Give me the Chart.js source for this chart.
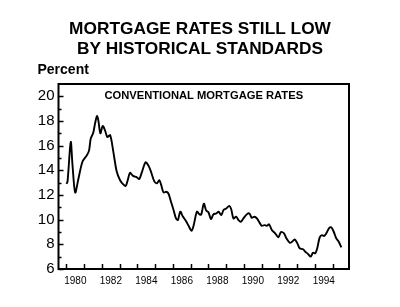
<!DOCTYPE html>
<html>
<head>
<meta charset="utf-8">
<script src="https://cdn.jsdelivr.net/npm/chart.js@4.4.1/dist/chart.umd.min.js"></script>
<style>
  html, body { margin: 0; padding: 0; background: #fff; }
  #wrap { width: 400px; height: 307px; position: relative; }
</style>
</head>
<body>
<div id="wrap"><canvas id="grafica" width="400" height="307"></canvas></div>
<script>
// fechas en años decimales y tasa hipotecaria convencional (%)
const fechas = [
  1980.00, 1980.06, 1980.24, 1980.34, 1980.49, 1980.67, 1980.90, 1981.14, 1981.27, 1981.37,
  1981.50, 1981.61, 1981.72, 1981.80, 1981.91, 1982.04, 1982.17, 1982.30, 1982.46, 1982.64,
  1982.83, 1983.02, 1983.20, 1983.34, 1983.45, 1983.58, 1983.75, 1983.95, 1984.10, 1984.26,
  1984.46, 1984.63, 1984.76, 1984.95, 1985.10, 1985.23, 1985.34, 1985.47, 1985.62, 1985.75,
  1985.89, 1986.03, 1986.17, 1986.28, 1986.41, 1986.56, 1986.73, 1986.88, 1987.05, 1987.16,
  1987.35, 1987.48, 1987.59, 1987.74, 1987.87, 1988.00, 1988.14, 1988.28, 1988.44, 1988.57,
  1988.72, 1988.85, 1989.00, 1989.17, 1989.28, 1989.41, 1989.56, 1989.69, 1989.82, 1989.97,
  1990.16, 1990.31, 1990.44, 1990.59, 1990.73, 1990.87, 1991.00, 1991.15, 1991.29, 1991.42,
  1991.57, 1991.76, 1991.94, 1992.09, 1992.26, 1992.39, 1992.58, 1992.71, 1992.86, 1993.01,
  1993.14, 1993.33, 1993.46, 1993.61, 1993.76, 1993.89, 1994.02, 1994.13, 1994.27, 1994.40,
  1994.51, 1994.64, 1994.79, 1994.92, 1995.06, 1995.20, 1995.34, 1995.49
];
const tasas = [
  12.9, 13.1, 16.3, 14.4, 12.2, 13.3, 14.7, 15.2, 15.6, 16.6,
  17.0, 17.8, 18.4, 18.0, 17.0, 17.6, 17.25, 16.7, 16.85, 15.5,
  13.9, 13.2, 12.86, 12.74, 13.2, 13.8, 13.55, 13.45, 13.3, 13.9,
  14.65, 14.35, 13.9, 13.1, 12.95, 13.2, 12.8, 12.2, 12.26, 12.1,
  11.45, 10.8, 10.1, 9.97, 10.65, 10.25, 9.9, 9.5, 9.1, 9.5,
  10.65, 10.45, 10.4, 11.3, 10.75, 10.6, 10.05, 10.43, 10.5, 10.64,
  10.37, 10.78, 10.9, 11.12, 10.86, 10.1, 10.24, 9.97, 9.83, 10.1,
  10.43, 10.5, 10.15, 10.24, 10.1, 9.78, 9.5, 9.56, 9.5, 9.62,
  9.16, 8.89, 8.57, 9.0, 8.89, 8.49, 8.13, 8.21, 8.4, 8.08,
  7.68, 7.6, 7.4, 7.22, 7.0, 7.32, 7.27, 7.68, 8.57, 8.75,
  8.67, 8.89, 9.3, 9.38, 9.02, 8.49, 8.21, 7.76
];
const anios = [1980, 1981, 1982, 1983, 1984, 1985, 1986, 1987, 1988, 1989, 1990, 1991, 1992, 1993, 1994, 1995];
const etiquetasAnio = [1980, 1982, 1984, 1986, 1988, 1990, 1992, 1994];
const valoresY = [6, 7, 8, 9, 10, 11, 12, 13, 14, 15, 16, 17, 18, 19, 20];

const fuente = "'Liberation Sans', Arial, sans-serif";

const marcoYMarcas = {
  id: "marcoYMarcas",
  afterDatasetsDraw(chart) {
    const { ctx, chartArea: a, scales } = chart;
    ctx.save();
    ctx.strokeStyle = "#000";
    ctx.lineWidth = 1.5;
    ctx.beginPath();
    valoresY.forEach((v) => {
      const y = Math.round(scales.y.getPixelForValue(v)) + 0.5;
      const largo = v % 2 === 0 ? 5 : 3;
      ctx.moveTo(a.left, y);
      ctx.lineTo(a.left + largo, y);
    });
    anios.forEach((an) => {
      const x = Math.round(scales.x.getPixelForValue(an)) + 0.5;
      ctx.moveTo(x, a.bottom);
      ctx.lineTo(x, a.bottom - 5);
    });
    ctx.stroke();
    ctx.lineWidth = 2;
    ctx.strokeRect(a.left, a.top, a.right - a.left, a.bottom - a.top);
    ctx.fillStyle = "#000";
    ctx.font = "bold 11.2px " + fuente;
    ctx.textAlign = "center";
    ctx.textBaseline = "middle";
    ctx.fillText("CONVENTIONAL MORTGAGE RATES", (a.left + a.right) / 2, a.top + 12);
    ctx.font = "bold 14px " + fuente;
    ctx.textAlign = "left";
    ctx.fillText("Percent", a.left - 21, a.top - 13.5);
    ctx.restore();
  },
};

const datos = {
  datasets: [
    {
      label: "Conventional mortgage rates",
      data: fechas.map((f, i) => ({ x: f, y: tasas[i] })),
      borderColor: "#000",
      borderWidth: 1.9,
      pointRadius: 0,
      tension: 0.3,
      fill: false,
    },
  ],
};

const config = {
  type: "line",
  data: datos,
  options: {
    responsive: false,
    animation: false,
    layout: { padding: 0 },
    plugins: {
      legend: { display: false },
      tooltip: { enabled: false },
      title: {
        display: true,
        text: ["MORTGAGE RATES STILL LOW", "BY HISTORICAL STANDARDS"],
        color: "#000",
        font: { family: fuente, size: 17.3, weight: "bold", lineHeight: 1.156 },
        padding: { top: 19, bottom: 25 },
      },
    },
    scales: {
      x: {
        type: "linear",
        min: 1979.55,
        max: 1995.92,
        grid: { display: false, drawTicks: false },
        border: { display: false },
        afterBuildTicks: (s) => {
          s.ticks = etiquetasAnio.map((v) => ({ value: v + 0.5 }));
        },
        afterFit: (s) => { s.height = 38; },
        ticks: {
          color: "#000",
          font: { family: fuente, size: 10 },
          padding: 6,
          maxRotation: 0,
          autoSkip: false,
          callback: (v) => String(Math.floor(v)),
        },
      },
      y: {
        min: 6,
        max: 21,
        grid: { display: false, drawTicks: false },
        border: { display: false },
        afterBuildTicks: (s) => {
          s.ticks = valoresY.filter((v) => v % 2 === 0).map((v) => ({ value: v }));
        },
        afterFit: (s) => { s.width = 58.5; },
        ticks: {
          color: "#000",
          font: { family: fuente, size: 15 },
          padding: 4,
          autoSkip: false,
          callback: (v) => String(v),
        },
      },
      derecha: {
        position: "right",
        grid: { display: false, drawTicks: false },
        border: { display: false },
        ticks: { display: false },
        afterFit: (s) => { s.width = 51; },
      },
    },
  },
  plugins: [marcoYMarcas],
};

const grafica = new Chart(document.getElementById("grafica").getContext("2d"), config);
</script>
</body>
</html>
